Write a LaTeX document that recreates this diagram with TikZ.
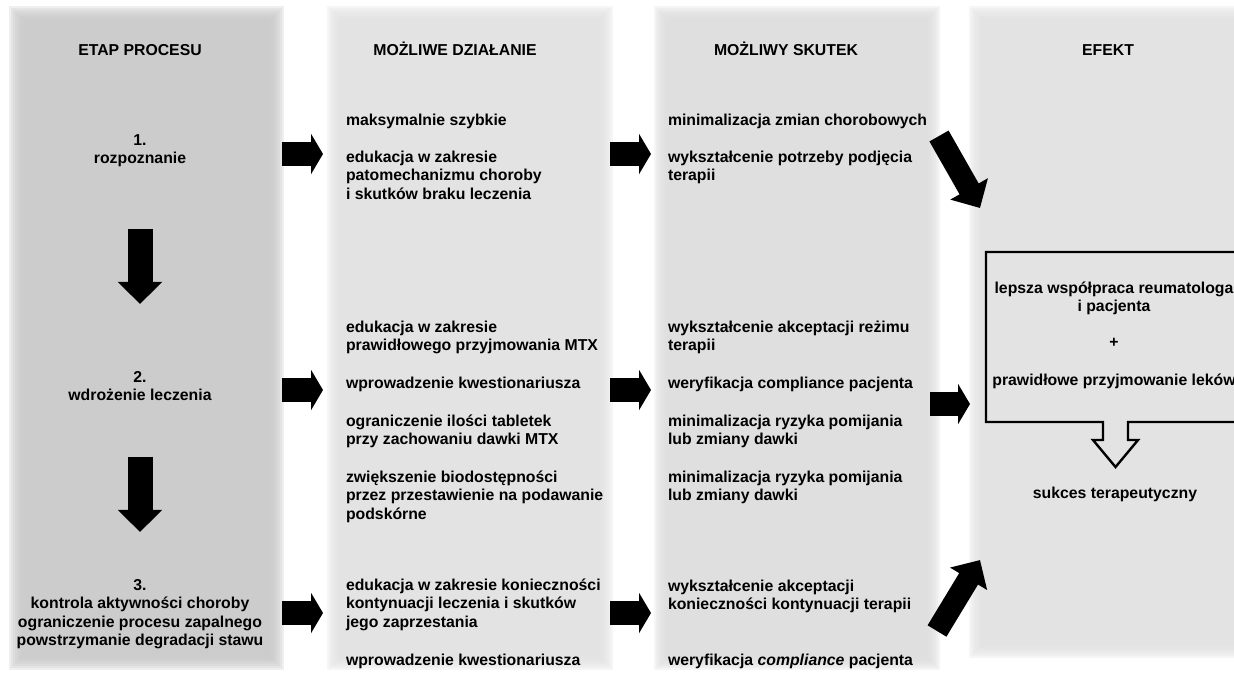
\documentclass[tikz,border=0pt]{standalone}
\usepackage{fontspec}
\setmainfont{Liberation Sans}
\usepackage{tikz}
\usetikzlibrary{arrows.meta,calc}

\definecolor{panelA}{gray}{0.80}
\definecolor{panelB}{gray}{0.89}
\definecolor{panelC}{gray}{0.875}
\definecolor{panelD}{gray}{0.89}

\tikzset{
  txt/.style={inner sep=0pt, outer sep=0pt, font=\fontsize{15.8}{18.5}\selectfont\bfseries},
  lefttxt/.style={txt, align=left, anchor=base west},
  midtxt/.style={txt, align=center, anchor=base},
  panel/.style={inner sep=0pt, outer sep=0pt},
  flatarrow/.style={line width=24pt, -{Triangle[length=12pt,width=40pt]}},
  downarrow/.style={line width=25pt, -{Triangle[length=22pt,width=43pt]}},
  slantarrow/.style={line width=22pt, -{Triangle[length=22pt,width=42pt]}},
}

% soft edged grey column behind a panel node
\newcommand{\softpanel}[2]{%
  \foreach \k in {0,...,9}
    \fill[#2, fill opacity=0.3] ([xshift=\k*1.9pt, yshift=-\k*1.9pt]#1.north west) rectangle ([xshift=-\k*1.9pt, yshift=\k*1.9pt]#1.south east);
}

\begin{document}
\begin{tikzpicture}[x=1pt, y=-1pt]
\useasboundingbox[fill=white] (0,0) rectangle (1234,673);

% columns (base anchor of a text = baseline of its last line)
\node[panel, minimum width=275pt, minimum height=664pt] (colA) at (146.5,338) {};
\node[panel, minimum width=286pt, minimum height=664pt] (colB) at (470,338) {};
\node[panel, minimum width=286pt, minimum height=664pt] (colC) at (797,338) {};
\node[panel, minimum width=291pt, minimum height=652pt] (colD) at (1114.5,332) {};
\softpanel{colA}{panelA}
\softpanel{colB}{panelB}
\softpanel{colC}{panelC}
\softpanel{colD}{panelD}

% headers
\node[midtxt] (hdrA) at (140,55) {ETAP PROCESU};
\node[midtxt] (hdrB) at (455,55) {MOŻLIWE DZIAŁANIE};
\node[midtxt] (hdrC) at (786,55) {MOŻLIWY SKUTEK};
\node[midtxt] (hdrD) at (1108,55) {EFEKT};

% etap procesu
\node[midtxt] (s1) at (140,163.5) {1.\\rozpoznanie};
\node[midtxt] (s2) at (140,400.5) {2.\\wdrożenie leczenia};
\node[midtxt] (s3) at (140,645.5) {3.\\kontrola aktywności choroby\\ograniczenie procesu zapalnego\\powstrzymanie degradacji stawu};

% mozliwe dzialanie
\node[lefttxt] (b11) at (346,125) {maksymalnie szybkie};
\node[lefttxt] (b12) at (346,199) {edukacja w zakresie\\patomechanizmu choroby\\i skutków braku leczenia};
\node[lefttxt] (b21) at (346,350.5) {edukacja w zakresie\\prawidłowego przyjmowania MTX};
\node[lefttxt] (b22) at (346,388) {wprowadzenie kwestionariusza};
\node[lefttxt] (b23) at (346,444.5) {ograniczenie ilości tabletek\\przy zachowaniu dawki MTX};
\node[lefttxt] (b24) at (346,519) {zwiększenie biodostępności\\przez przestawienie na podawanie\\podskórne};
\node[lefttxt] (b31) at (346,627) {edukacja w zakresie konieczności\\kontynuacji leczenia i skutków\\jego zaprzestania};
\node[lefttxt] (b32) at (346,665) {wprowadzenie kwestionariusza};

% mozliwy skutek
\node[lefttxt] (c11) at (668,125) {minimalizacja zmian chorobowych};
\node[lefttxt] (c12) at (668,180.5) {wykształcenie potrzeby podjęcia\\terapii};
\node[lefttxt] (c21) at (668,350.5) {wykształcenie akceptacji reżimu\\terapii};
\node[lefttxt] (c22) at (668,388) {weryfikacja compliance pacjenta};
\node[lefttxt] (c23) at (668,444.5) {minimalizacja ryzyka pomijania\\lub zmiany dawki};
\node[lefttxt] (c24) at (668,500.5) {minimalizacja ryzyka pomijania\\lub zmiany dawki};
\node[lefttxt] (c31) at (668,609.5) {wykształcenie akceptacji\\konieczności kontynuacji terapii};
\node[lefttxt] (c32) at (668,665) {weryfikacja \textit{compliance} pacjenta};

% efekt
\node[panel, minimum width=259pt, minimum height=170pt] (effbox) at (1115.5,337) {};
\draw[line width=2.4pt, line join=miter, fill=panelD] (effbox.north west) -- (effbox.north east) -- (effbox.south east)
  -- ($(effbox.south)+(12.5,0)$) -- ++(0,18) -- ++(10,0) -- ($(effbox.south)+(0,45)$)
  -- ($(effbox.south)+(-22.5,18)$) -- ++(10,0) -- ($(effbox.south)+(-12.5,0)$) -- (effbox.south west) -- cycle;
\node[midtxt] (d1) at (1114,311.5) {lepsza współpraca reumatologa\\i pacjenta};
\node[midtxt] (d2) at (1114,347) {+};
\node[midtxt] (d3) at (1114,385) {prawidłowe przyjmowanie leków};
\node[midtxt] (d4) at (1115,498) {sukces terapeutyczny};

% arrows
\coordinate (row1) at (0,154);
\coordinate (row2) at (0,390);
\coordinate (row3) at (0,613);
\coordinate (row4) at (0,404);
\draw[flatarrow] ($(colA.east |- row1)+(-2,0)$) -- ($(colB.west |- row1)+(-4,0)$);
\draw[flatarrow] ($(colB.east |- row1)+(-3,0)$) -- ($(colC.west |- row1)+(-3,0)$);
\draw[flatarrow] ($(colA.east |- row2)+(-2,0)$) -- ($(colB.west |- row2)+(-4,0)$);
\draw[flatarrow] ($(colB.east |- row2)+(-3,0)$) -- ($(colC.west |- row2)+(-3,0)$);
\draw[flatarrow] ($(colA.east |- row3)+(-2,0)$) -- ($(colB.west |- row3)+(-4,0)$);
\draw[flatarrow] ($(colB.east |- row3)+(-3,0)$) -- ($(colC.west |- row3)+(-3,0)$);
\draw[flatarrow] ($(colC.east |- row4)+(-10,0)$) -- ($(effbox.west |- row4)+(-16,0)$);
\draw[downarrow, shorten <=62pt, shorten >=67pt] (s1) -- (s2);
\draw[downarrow, shorten <=56pt, shorten >=47pt] (s2) -- (s3);
\coordinate (slant1a) at (939,136);
\coordinate (slant1b) at (980,208);
\coordinate (slant3a) at (937,631);
\coordinate (slant3b) at (980,560);
\draw[slantarrow] (slant1a) -- (slant1b);
\draw[slantarrow] (slant3a) -- (slant3b);
\end{tikzpicture}
\end{document}
